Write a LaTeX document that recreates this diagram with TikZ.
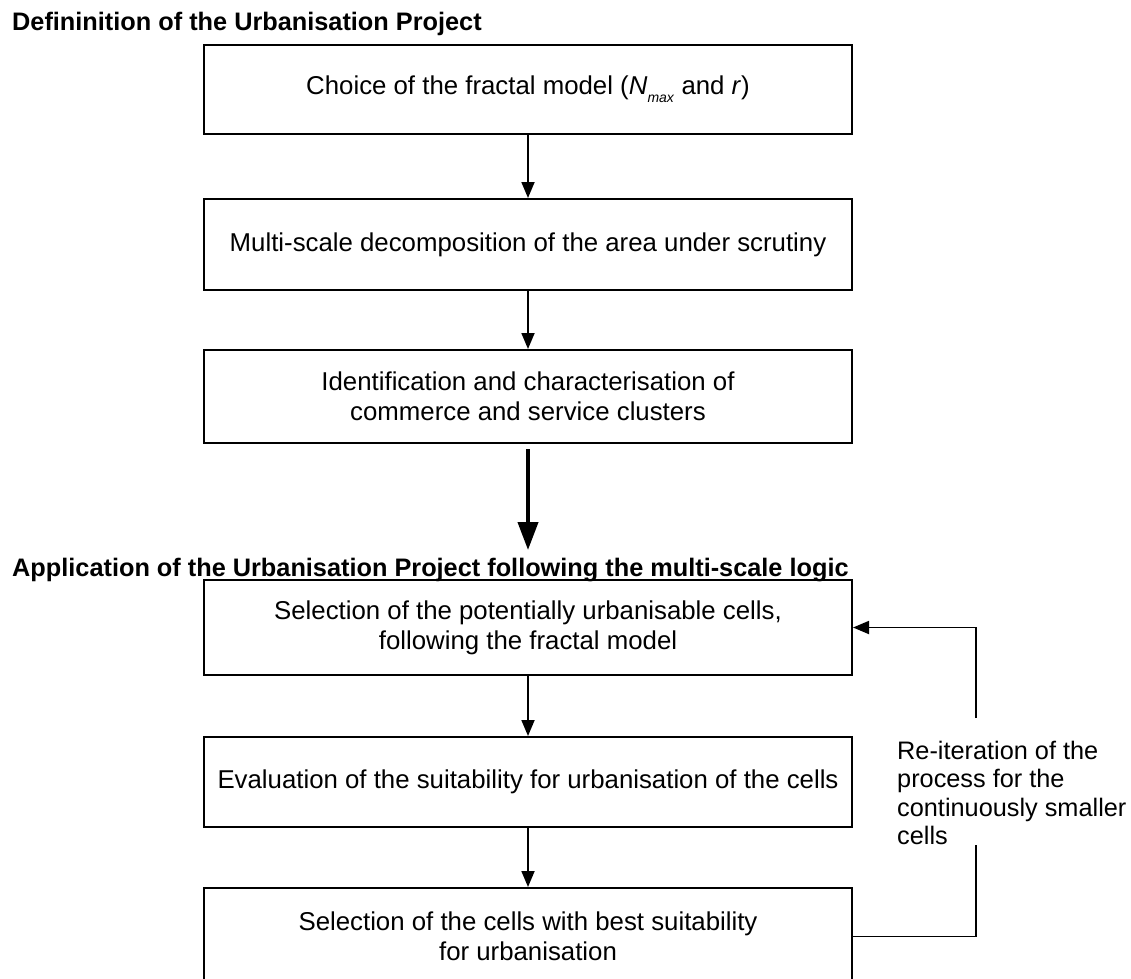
\documentclass[tikz,border=0pt]{standalone}
\usepackage{fontspec}
\setmainfont{Liberation Sans}
\usetikzlibrary{arrows.meta}
\begin{document}
\begin{tikzpicture}[x=1pt,y=-1pt,
  stage/.style={draw, line width=2pt, minimum width=648pt, inner sep=0pt,
    align=center, font=\fontsize{25.8}{30}\selectfont},
  flow/.style={-{Triangle[length=16pt,width=13pt]}, line width=1.8pt},
  bigflow/.style={-{Triangle[length=28pt,width=20pt]}, line width=4pt},
  heading/.style={anchor=base west, inner sep=0pt, font=\fontsize{25.3}{28}\selectfont\bfseries},
  remark/.style={anchor=north west, inner sep=0pt, align=left, font=\fontsize{25.3}{28.3}\selectfont}]
\useasboundingbox (0,0) rectangle (1131,978);
\clip (0,0) rectangle (1131,978);

% first phase
\node[heading] (t1) at (12,30) {Defininition of the Urbanisation Project};
\node[stage, minimum height=89pt] (b1) at (528,89.5)
  {Choice of the fractal model (\textit{N}\raisebox{-0.6ex}{\fontsize{14}{14}\selectfont\textit{max}} and \textit{r})};
\node[stage, minimum height=91pt] (b2) at (528,244.5)
  {Multi-scale decomposition of the area under scrutiny};
\node[stage, minimum height=93pt] (b3) at (528,396.5)
  {Identification and characterisation of\\commerce and service clusters};

% second phase
\node[heading] (t2) at (12,576) {Application of the Urbanisation Project following the multi-scale logic};
\coordinate (bigend) at (528,550);
\node[stage, minimum height=95pt] (b4) at (528,627.5)
  {Selection of the potentially urbanisable cells,\\following the fractal model};
\node[stage, minimum height=90pt] (b5) at (528,782)
  {Evaluation of the suitability for urbanisation of the cells};
\node[stage, minimum height=97pt] (b6) at (528,936.5)
  {Selection of the cells with best suitability\\for urbanisation};

% loop note
\node[remark] (note) at (897,741)
  {Re-iteration of the\\process for the\\continuously smaller\\cells};
\coordinate (gapbot) at (976,845);
\coordinate (gaptop) at (976,718);

% connectors
\draw[flow] (b1) -- (b2);
\draw[flow] (b2) -- (b3);
\draw[bigflow, shorten <=5pt] (b3.south) -- (bigend);
\draw[flow] (b4) -- (b5);
\draw[flow] (b5) -- (b6);
\draw[line width=1.8pt] (b6.east) -| (gapbot);
\draw[flow] (gaptop) |- (b4.east);
\end{tikzpicture}
\end{document}
